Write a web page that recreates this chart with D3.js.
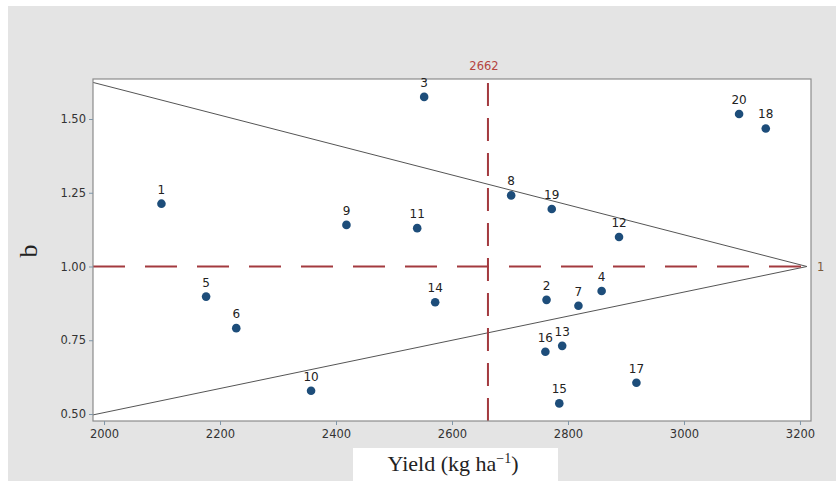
<!DOCTYPE html>
<html>
<head>
<meta charset="utf-8">
<script src="https://cdn.jsdelivr.net/npm/d3@7"></script>
<style>
  html, body { margin: 0; padding: 0; background: #ffffff; }
  svg { display: block; }
</style>
</head>
<body>
<svg id="chart" width="836" height="481"></svg>
<script>
// ---- Data ----
const genotypes = ["1","2","3","4","5","6","7","8","9","10","11","12","13","14","15","16","17","18","19","20"];
const yieldValues = [2099, 2763, 2552, 2858, 2176, 2228, 2818, 2702, 2418, 2357, 2540, 2888, 2790, 2571, 2785, 2761, 2918, 3141, 2772, 3095];
const bValues = [1.213, 0.887, 1.575, 0.917, 0.898, 0.791, 0.867, 1.241, 1.141, 0.579, 1.130, 1.100, 0.731, 0.879, 0.536, 0.711, 0.606, 1.468, 1.195, 1.517];
const meanYield = 2662;
const meanB = 1;
const xTicks = [2000, 2200, 2400, 2600, 2800, 3000, 3200];
const yTicks = [0.50, 0.75, 1.00, 1.25, 1.50];
const triangleX = [1981, 3212];
const upperB = [1.624, 1.0];
const lowerB = [0.497, 1.0];

// ---- Layout ----
const svg = d3.select("#chart");
const W = 836, H = 481;
const plot = { left: 93, right: 811, top: 79, bottom: 421 };

const x = d3.scaleLinear().domain([1981, 3219]).range([plot.left, plot.right]);
const y = d3.scaleLinear().domain([0.4763, 1.6356]).range([plot.bottom, plot.top]);

// background
svg.append("rect").attr("x", 0).attr("y", 0).attr("width", W).attr("height", H).attr("fill", "#ffffff");
svg.append("rect").attr("x", 8).attr("y", 6).attr("width", W - 8).attr("height", H - 6).attr("fill", "#e4e4e4");
// plot area
svg.append("rect")
  .attr("x", plot.left).attr("y", plot.top)
  .attr("width", plot.right - plot.left).attr("height", plot.bottom - plot.top)
  .attr("fill", "#ffffff");

// clip
svg.append("clipPath").attr("id", "clip")
  .append("rect")
  .attr("x", plot.left).attr("y", plot.top)
  .attr("width", plot.right - plot.left).attr("height", plot.bottom - plot.top);

const g = svg.append("g").attr("clip-path", "url(#clip)");

// triangle lines
const line = d3.line().x(d => x(d[0])).y(d => y(d[1]));
[upperB, lowerB].forEach(arr => {
  g.append("path")
    .datum(triangleX.map((v, i) => [v, arr[i]]))
    .attr("d", line)
    .attr("fill", "none")
    .attr("stroke", "#555555")
    .attr("stroke-width", 1);
});

// reference dashed lines
g.append("line")
  .attr("x1", x.range()[0]).attr("x2", x(triangleX[1]))
  .attr("y1", y(meanB)).attr("y2", y(meanB))
  .attr("stroke", "#a33a3f").attr("stroke-width", 2)
  .attr("stroke-dasharray", "32,20");
g.append("line")
  .attr("x1", x(meanYield)).attr("x2", x(meanYield))
  .attr("y1", plot.top + 4).attr("y2", plot.bottom)
  .attr("stroke", "#a33a3f").attr("stroke-width", 2)
  .attr("stroke-dasharray", "23,12");

// plot border
svg.append("rect")
  .attr("x", plot.left).attr("y", plot.top)
  .attr("width", plot.right - plot.left).attr("height", plot.bottom - plot.top)
  .attr("fill", "none").attr("stroke", "#8c8c8c").attr("stroke-width", 1.2);

// axes
const xAxis = d3.axisBottom(x).tickValues(xTicks).tickSize(4).tickPadding(5).tickFormat(d3.format("d"));
const yAxis = d3.axisLeft(y).tickValues(yTicks).tickSize(4).tickPadding(3).tickFormat(d3.format(".2f"));

const gx = svg.append("g").attr("transform", `translate(0,${plot.bottom})`).call(xAxis);
const gy = svg.append("g").attr("transform", `translate(${plot.left},0)`).call(yAxis);
[gx, gy].forEach(a => {
  a.select(".domain").remove();
  a.selectAll(".tick line").attr("stroke", "#7f96a8");
  a.selectAll(".tick text")
    .attr("fill", "#333333")
    .attr("font-family", "DejaVu Sans, sans-serif")
    .attr("font-size", 11.5);
});

// points
svg.append("g").selectAll("circle")
  .data(genotypes)
  .join("circle")
  .attr("cx", (d, i) => x(yieldValues[i]))
  .attr("cy", (d, i) => y(bValues[i]))
  .attr("r", 4.3)
  .attr("fill", "#1d4d7a");

svg.append("g").selectAll("text")
  .data(genotypes)
  .join("text")
  .attr("x", (d, i) => x(yieldValues[i]))
  .attr("y", (d, i) => y(bValues[i]) - 10)
  .attr("text-anchor", "middle")
  .attr("font-family", "DejaVu Sans, sans-serif")
  .attr("font-size", 12)
  .attr("fill", "#222222")
  .text(d => d);

// reference labels
svg.append("text")
  .attr("x", x(meanYield) - 4).attr("y", plot.top - 9)
  .attr("text-anchor", "middle")
  .attr("font-family", "DejaVu Sans, sans-serif")
  .attr("font-size", 11.5)
  .attr("fill", "#b5453f")
  .text(String(meanYield));
svg.append("text")
  .attr("x", plot.right + 6).attr("y", y(meanB) + 4)
  .attr("font-family", "DejaVu Sans, sans-serif")
  .attr("font-size", 11.5)
  .attr("fill", "#7a5a3a")
  .text(String(meanB));

// x axis title with white box
svg.append("rect").attr("x", 353).attr("y", 448).attr("width", 205).attr("height", H - 448).attr("fill", "#ffffff");
const xt = svg.append("text")
  .attr("x", 453).attr("y", 471)
  .attr("text-anchor", "middle")
  .attr("font-family", "Liberation Serif, Times New Roman, serif")
  .attr("font-size", 22)
  .attr("fill", "#222222");
xt.append("tspan").text("Yield (kg ha");
xt.append("tspan").attr("font-size", 14).attr("dy", -8).text("−1");
xt.append("tspan").attr("dy", 8).text(")");

// y axis title
svg.append("text")
  .attr("transform", "translate(37,251) rotate(-90)")
  .attr("text-anchor", "middle")
  .attr("font-family", "Liberation Serif, Times New Roman, serif")
  .attr("font-size", 26)
  .attr("fill", "#222222")
  .text("b");
</script>
</body>
</html>
